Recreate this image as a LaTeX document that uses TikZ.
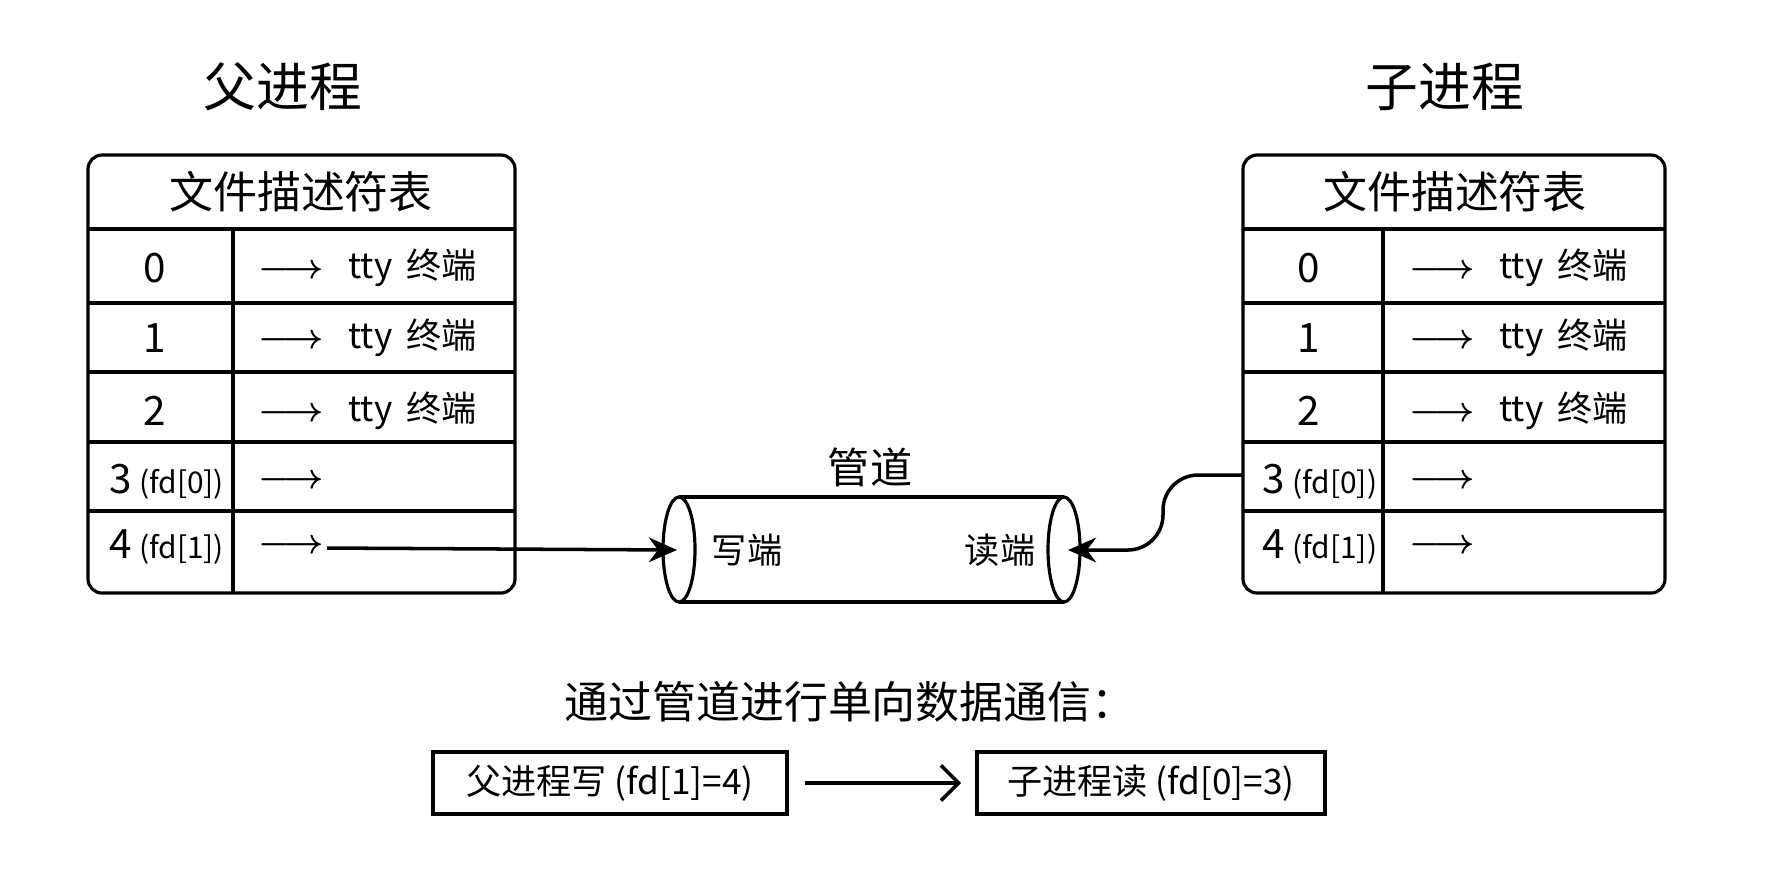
\documentclass[tikz,border=0pt]{standalone}
\usepackage{fontspec}
\setmainfont{Noto Sans CJK SC}
\usetikzlibrary{arrows.meta}

\tikzset{
  proctitle/.style={font=\fontsize{15}{18}\selectfont},
  tablehead/.style={font=\fontsize{12.5}{15}\selectfont},
  fdnum/.style={font=\fontsize{11.5}{13}\selectfont},
  fdcell/.style={anchor=west, inner sep=0pt, font=\fontsize{10}{12}\selectfont},
  pipelabel/.style={font=\fontsize{10}{12}\selectfont},
  flow/.style={-{Stealth[length=8pt,width=7pt]}, line width=1pt},
  msgbox/.style={draw, line width=1pt, minimum height=0.62cm, font=\fontsize{10}{12}\selectfont}
}

\newcommand{\fdarrow}{{\boldmath\(\longrightarrow\)}}
\newcommand{\fdname}[2]{#1\,{\fontsize{8.5}{10}\selectfont(fd[#2])}}
\newcommand{\ttyend}{\fdarrow\hspace{7pt}tty\hspace{4pt}终端}

\begin{document}
\begin{tikzpicture}[x=0.01cm, y=-0.01cm, line width=0.9pt]
\useasboundingbox (0,0) rectangle (1774,887);

  % Process titles
  \node[proctitle] (ptitle) at (283,87) {父进程};
  \node[proctitle] (ctitle) at (1445,87) {子进程};

  % Parent fd table
  \draw[rounded corners=4pt] (88,155) rectangle (515,593);
  \foreach \y in {229,303,372,442,511} \draw (88,\y) -- (515,\y);
  \draw (233,229) -- (233,593);
  \node[tablehead] (phead) at (301,192) {文件描述符表};
  \node[fdnum] (p0) at (155,268) {0};
  \node[fdnum] (p1) at (155,338) {1};
  \node[fdnum] (p2) at (155,411) {2};
  \node[fdnum] (p3) at (167,482) {\fdname{3}{0}};
  \node[fdnum] (p4) at (167,547) {\fdname{4}{1}};
  \node[fdcell] (p0r) at (257,268) {\ttyend};
  \node[fdcell] (p1r) at (257,338) {\ttyend};
  \node[fdcell] (p2r) at (257,411) {\ttyend};
  \node[fdcell] (p3r) at (257,482) {\fdarrow};
  \node[fdcell] (p4r) at (257,547) {\fdarrow};

  % Child fd table
  \draw[rounded corners=4pt] (1243,155) rectangle (1665,593);
  \foreach \y in {229,303,372,442,511} \draw (1243,\y) -- (1665,\y);
  \draw (1383,229) -- (1383,593);
  \node[tablehead] (chead) at (1455,192) {文件描述符表};
  \node[fdnum] (c0) at (1309,268) {0};
  \node[fdnum] (c1) at (1309,338) {1};
  \node[fdnum] (c2) at (1309,411) {2};
  \node[fdnum] (c3) at (1320,482) {\fdname{3}{0}};
  \node[fdnum] (c4) at (1320,547) {\fdname{4}{1}};
  \node[fdcell] (c0r) at (1408,268) {\ttyend};
  \node[fdcell] (c1r) at (1408,338) {\ttyend};
  \node[fdcell] (c2r) at (1408,411) {\ttyend};
  \node[fdcell] (c3r) at (1408,482) {\fdarrow};
  \node[fdcell] (c4r) at (1408,547) {\fdarrow};

  % The pipe
  \draw (679,497) -- (1064,497);
  \draw (679,602) -- (1064,602);
  \draw[fill=white] (679,549.5) ellipse [x radius=0.16cm, y radius=0.525cm];
  \draw[fill=white] (1064,549.5) ellipse [x radius=0.16cm, y radius=0.525cm];
  \node[font=\fontsize{12}{14}\selectfont] (pipe) at (870,467) {管道};
  \node[pipelabel] (wlabel) at (747,550) {写端};
  \node[pipelabel] (rlabel) at (1000,550) {读端};

  % fd[1] -> write end, read end <- fd[0]
  \coordinate (pw) at (327,548);
  \coordinate (wend) at (677,550);
  \coordinate (rend) at (1068,550);
  \coordinate (cr) at (1243,475);
  \draw[flow] (pw) -- (wend);
  \draw[flow, rounded corners=10pt] (cr) -- ++(-80,0) |- (rend);

  % Summary
  \node[tablehead] (note) at (850,702) {通过管道进行单向数据通信：};
  \node[msgbox, minimum width=3.54cm] (pwrite) at (610,783) {父进程写 (fd[1]=4)};
  \node[msgbox, minimum width=3.48cm] (cread) at (1151,783) {子进程读 (fd[0]=3)};
  \draw[-{Straight Barb[length=5pt]}, line width=1pt, shorten <=4.5pt, shorten >=4pt] (pwrite) -- (cread);

\end{tikzpicture}
\end{document}
